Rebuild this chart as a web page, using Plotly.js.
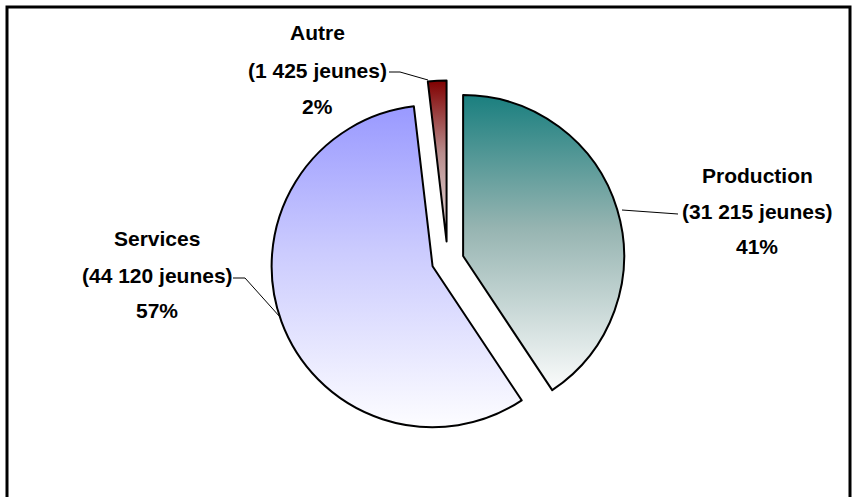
<!DOCTYPE html>
<html>
<head>
<meta charset="utf-8">
<script src="https://cdn.plot.ly/plotly-3.0.1.min.js"></script>
<style>html,body{margin:0;padding:0;background:#fff;}#chart{width:857px;height:497px;}</style>
</head>
<body>
<div id="chart"></div>
<script>
// ---- data ----
var categories = ["Production", "Services", "Autre"];
var jeunes = [31215, 44120, 1425];
var sliceColors = ["#8fb2b0", "#cfcffd", "#b67a7a"];
var gradientTops = ["#1a7f7f", "#9999ff", "#800000"];
var gradientMids = ["#96b4b1", "#cbcbfe", "#b88c8c"];
var gradientBottoms = ["#fbfcfc", "#fdfdff", "#ebe3e3"];
var pulls = [0.1, 0.1, 0.12];

// ---- helpers ----
var W = 857, H = 497;
function px(x) { return x / W; }
function py(y) { return 1 - y / H; }
function fmt(n) { return String(n).replace(/\B(?=(\d{3})+(?!\d))/g, " "); }
var total = jeunes.reduce(function (a, b) { return a + b; }, 0);

var FONT = { family: "Liberation Sans, Arial, sans-serif", size: 21, color: "#000" };

// label block positions (pixel centres) – layout only
var labelPos = [
  { x: 757, y: [175, 211, 246] },
  { x: 157, y: [238, 275, 310] },
  { x: 317, y: [33, 70, 106] }
];

var annotations = [];
categories.forEach(function (c, i) {
  var lines = [c, "(" + fmt(jeunes[i]) + " jeunes)", Math.round(jeunes[i] / total * 100) + "%"];
  lines.forEach(function (t, k) {
    annotations.push({
      xref: "paper", yref: "paper",
      x: px(labelPos[i].x), y: py(labelPos[i].y[k]),
      xanchor: "center", yanchor: "middle",
      text: "<b>" + t + "</b>", showarrow: false, font: FONT
    });
  });
});

var lineStyle = { color: "#000", width: 1 };
var shapes = [
  // outer frame
  { type: "rect", xref: "paper", yref: "paper", x0: px(7), x1: px(850), y0: py(7), y1: py(520),
    line: { color: "#000", width: 3 }, fillcolor: "rgba(0,0,0,0)" },
  // leader lines
  { type: "path", xref: "paper", yref: "paper",
    path: "M" + px(622) + "," + py(210) + " L" + px(678) + "," + py(214), line: lineStyle },
  { type: "path", xref: "paper", yref: "paper",
    path: "M" + px(233) + "," + py(278) + " L" + px(245) + "," + py(278) + " L" + px(280) + "," + py(317), line: lineStyle },
  { type: "path", xref: "paper", yref: "paper",
    path: "M" + px(389) + "," + py(72) + " L" + px(400) + "," + py(72) + " L" + px(428) + "," + py(80), line: lineStyle }
];

var trace = {
  type: "pie",
  labels: categories,
  values: jeunes,
  sort: false,
  direction: "clockwise",
  rotation: 0,
  pull: pulls,
  textinfo: "none",
  hoverinfo: "label+value+percent",
  marker: { colors: sliceColors, line: { color: "#000", width: 2 } },
  domain: { x: [0.3120, 0.7328], y: [0.1127, 0.8382] },
  showlegend: false
};

var layout = {
  width: W, height: H,
  margin: { l: 0, r: 0, t: 0, b: 0 },
  paper_bgcolor: "#fff",
  plot_bgcolor: "#fff",
  showlegend: false,
  annotations: annotations,
  shapes: shapes
};

Plotly.newPlot("chart", [trace], layout, { displayModeBar: false, staticPlot: true }).then(function (gd) {
  var svgNS = "http://www.w3.org/2000/svg";
  var svg = gd.querySelector(".main-svg");
  var defs = svg.querySelector("defs") || svg.insertBefore(document.createElementNS(svgNS, "defs"), svg.firstChild);
  categories.forEach(function (c, i) {
    var g = document.createElementNS(svgNS, "linearGradient");
    g.setAttribute("id", "pieGrad" + i);
    g.setAttribute("x1", "0"); g.setAttribute("y1", "0");
    g.setAttribute("x2", "0"); g.setAttribute("y2", "1");
    [[0, gradientTops[i]], [0.45, gradientMids[i]], [1, gradientBottoms[i]]].forEach(function (st) {
      var s = document.createElementNS(svgNS, "stop");
      s.setAttribute("offset", String(st[0]));
      s.setAttribute("stop-color", st[1]);
      g.appendChild(s);
    });
    defs.appendChild(g);
  });
  var paths = gd.querySelectorAll(".slice path.surface");
  paths.forEach(function (p, i) {
    p.style.fill = "url(#pieGrad" + i + ")";
  });
});
</script>
</body>
</html>
